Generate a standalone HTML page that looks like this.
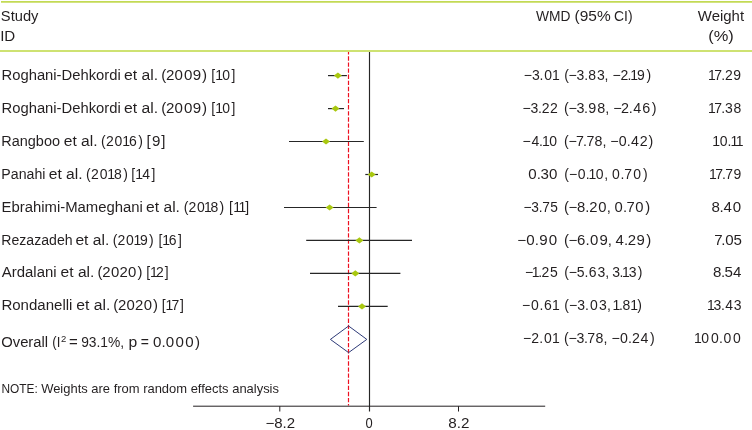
<!DOCTYPE html>
<html lang="en"><head><meta charset="utf-8"><title>Forest plot</title>
<style>
html,body{margin:0;padding:0;background:#fff}
svg{display:block;will-change:transform}
text{font-family:"Liberation Sans",sans-serif;font-size:14px;fill:#231f20}
.n{font-size:11.9px}
.s{font-size:8.5px}
</style></head><body>
<svg width="752" height="430" viewBox="0 0 752 430">
<rect width="752" height="430" fill="#fff"/>
<text y="21"><tspan x="0.89" textLength="37.58" lengthAdjust="spacingAndGlyphs">Study</tspan></text>
<text y="41"><tspan x="0.18" textLength="15.12" lengthAdjust="spacingAndGlyphs">ID</tspan></text>
<text y="21"><tspan x="535.97" textLength="34.46" lengthAdjust="spacingAndGlyphs">WMD</tspan> <tspan x="574.62" textLength="36.07" lengthAdjust="spacingAndGlyphs">(95%</tspan> <tspan x="614.06" textLength="18.56" lengthAdjust="spacingAndGlyphs">CI)</tspan></text>
<text y="21"><tspan x="697.89" textLength="46.21" lengthAdjust="spacingAndGlyphs">Weight</tspan></text>
<text y="41"><tspan x="708.24" textLength="25.55" lengthAdjust="spacingAndGlyphs">(%)</tspan></text>
<text y="80.2"><tspan x="1.52" textLength="119.22" lengthAdjust="spacingAndGlyphs">Roghani-Dehkordi</tspan> <tspan x="123.97" textLength="34.10" lengthAdjust="spacingAndGlyphs">et al.</tspan> <tspan x="161.2 166.0 174.5 183.9 192.8 202.0" textLength="43.7" lengthAdjust="spacingAndGlyphs">(2009)</tspan> <tspan x="211.3 215.2 222.2 231.5" textLength="23.3" lengthAdjust="spacingAndGlyphs">[10]</tspan></text>
<text y="113.1"><tspan x="1.52" textLength="119.22" lengthAdjust="spacingAndGlyphs">Roghani-Dehkordi</tspan> <tspan x="123.97" textLength="34.10" lengthAdjust="spacingAndGlyphs">et al.</tspan> <tspan x="161.2 166.0 174.5 183.9 192.8 202.0" textLength="43.7" lengthAdjust="spacingAndGlyphs">(2009)</tspan> <tspan x="211.3 215.2 222.2 231.5" textLength="23.3" lengthAdjust="spacingAndGlyphs">[10]</tspan></text>
<text y="145.9"><tspan x="1.29" textLength="58.69" lengthAdjust="spacingAndGlyphs">Rangboo</tspan> <tspan x="63.76" textLength="33.85" lengthAdjust="spacingAndGlyphs">et al.</tspan> <tspan x="100.9 105.9 114.6 122.2 128.9 138.2" textLength="40.5" lengthAdjust="spacingAndGlyphs">(2016)</tspan> <tspan x="146.6 152.0 161.3" textLength="16.8" lengthAdjust="spacingAndGlyphs">[9]</tspan></text>
<text y="178.8"><tspan x="1.34" textLength="44.09" lengthAdjust="spacingAndGlyphs">Panahi</tspan> <tspan x="48.76" textLength="33.85" lengthAdjust="spacingAndGlyphs">et al.</tspan> <tspan x="85.9 91.0 99.7 107.3 114.0 123.2" textLength="40.5" lengthAdjust="spacingAndGlyphs">(2018)</tspan> <tspan x="131.3 135.2 142.2 151.4" textLength="23.3" lengthAdjust="spacingAndGlyphs">[14]</tspan></text>
<text y="211.6"><tspan x="1.49" textLength="141.43" lengthAdjust="spacingAndGlyphs">Ebrahimi-Mameghani</tspan> <tspan x="146.13" textLength="33.82" lengthAdjust="spacingAndGlyphs">et al.</tspan> <tspan x="183.8 188.6 196.9 204.1 210.6 219.5" textLength="40.5" lengthAdjust="spacingAndGlyphs">(2018)</tspan> <tspan x="229.1 233.3 238.4 245.3" textLength="23.3" lengthAdjust="spacingAndGlyphs">[11]</tspan></text>
<text y="244.5"><tspan x="1.29" textLength="71.28" lengthAdjust="spacingAndGlyphs">Rezazadeh</tspan> <tspan x="75.40" textLength="33.83" lengthAdjust="spacingAndGlyphs">et al.</tspan> <tspan x="112.7 117.6 126.0 133.4 140.0 149.0" textLength="40.5" lengthAdjust="spacingAndGlyphs">(2019)</tspan> <tspan x="158.4 162.2 168.8 177.9" textLength="23.3" lengthAdjust="spacingAndGlyphs">[16]</tspan></text>
<text y="277.3"><tspan x="1.77" textLength="54.81" lengthAdjust="spacingAndGlyphs">Ardalani</tspan> <tspan x="60.58" textLength="33.77" lengthAdjust="spacingAndGlyphs">et al.</tspan> <tspan x="97.5 102.3 110.9 119.4 128.0 137.4" textLength="43.2" lengthAdjust="spacingAndGlyphs">(2020)</tspan> <tspan x="146.2 149.9 156.1 164.7" textLength="23.3" lengthAdjust="spacingAndGlyphs">[12]</tspan></text>
<text y="310.2"><tspan x="1.40" textLength="71.06" lengthAdjust="spacingAndGlyphs">Rondanelli</tspan> <tspan x="76.18" textLength="34.08" lengthAdjust="spacingAndGlyphs">et al.</tspan> <tspan x="113.2 118.0 126.6 135.1 143.7 153.1" textLength="43.2" lengthAdjust="spacingAndGlyphs">(2020)</tspan> <tspan x="161.7 165.4 171.5 180.0" textLength="23.3" lengthAdjust="spacingAndGlyphs">[17]</tspan></text>
<text y="346.8"><tspan x="1.20" textLength="46.96" lengthAdjust="spacingAndGlyphs">Overall</tspan> <tspan x="52.34" textLength="8.02" lengthAdjust="spacingAndGlyphs">(I</tspan><tspan class="s" x="60.9" y="342.2" textLength="5.3" lengthAdjust="spacingAndGlyphs">2</tspan> <tspan x="69.10" y="346.8" textLength="8.76" lengthAdjust="spacingAndGlyphs">=</tspan> <tspan x="81.13" textLength="42.95" lengthAdjust="spacingAndGlyphs">93.1%,</tspan> <tspan x="128.51" textLength="8.74" lengthAdjust="spacingAndGlyphs">p</tspan> <tspan x="140.73" textLength="8.17" lengthAdjust="spacingAndGlyphs">=</tspan> <tspan x="153.0 161.4 165.7 175.5 185.2 194.9" textLength="42.9" lengthAdjust="spacingAndGlyphs">0.000)</tspan></text>
<text class="n" y="393.4"><tspan x="1.43" textLength="36.27" lengthAdjust="spacingAndGlyphs">NOTE:</tspan> <tspan x="41.16" textLength="237.82" lengthAdjust="spacingAndGlyphs">Weights are from random effects analysis</tspan></text>
<text y="80.2"><tspan x="523.8 531.9 539.6 544.2 552.1" textLength="35.4" lengthAdjust="spacingAndGlyphs">−3.01</tspan> <tspan x="564.2 568.6 576.6 584.2 588.3 596.9 604.5 607.8 612.6 620.6 627.6 630.2 637.1 646.4" textLength="88.0" lengthAdjust="spacingAndGlyphs">(−3.83, −2.19)</tspan></text>
<text y="80.2"><tspan x="707.9 714.2 721.2 724.9 733.3" textLength="35.0" lengthAdjust="spacingAndGlyphs">17.29</tspan></text>
<text y="113.1"><tspan x="522.4 530.4 537.9 541.8 549.9" textLength="35.5" lengthAdjust="spacingAndGlyphs">−3.22</tspan> <tspan x="564.1 568.5 576.5 584.1 588.3 597.2 605.2 608.5 613.2 621.1 628.8 633.2 642.3 651.7" textLength="90.2" lengthAdjust="spacingAndGlyphs">(−3.98, −2.46)</tspan></text>
<text y="113.1"><tspan x="707.9 714.2 721.3 725.1 733.4" textLength="35.0" lengthAdjust="spacingAndGlyphs">17.38</tspan></text>
<text y="145.9"><tspan x="522.5 531.4 539.1 541.9 549.2" textLength="35.4" lengthAdjust="spacingAndGlyphs">−4.10</tspan> <tspan x="564.1 568.4 576.1 583.1 586.4 594.6 602.5 605.7 610.3 618.7 626.8 631.1 639.7 648.5" textLength="89.4" lengthAdjust="spacingAndGlyphs">(−7.78, −0.42)</tspan></text>
<text y="145.9"><tspan x="712.3 719.7 727.6 730.5 735.8" textLength="35.0" lengthAdjust="spacingAndGlyphs">10.11</tspan></text>
<text y="178.8"><tspan x="528.3 536.7 540.4 549.1" textLength="29.4" lengthAdjust="spacingAndGlyphs">0.30</tspan> <tspan x="564.3 568.9 577.8 585.7 588.5 595.8 604.3 607.6 612.1 620.6 624.2 633.3 643.1" textLength="79.8" lengthAdjust="spacingAndGlyphs">(−0.10, 0.70)</tspan></text>
<text y="178.8"><tspan x="709.0 715.2 722.1 725.3 733.4" textLength="35.0" lengthAdjust="spacingAndGlyphs">17.79</tspan></text>
<text y="211.6"><tspan x="523.4 531.3 538.8 542.2 550.2" textLength="34.7" lengthAdjust="spacingAndGlyphs">−3.75</tspan> <tspan x="564.1 568.6 577.1 585.3 589.2 598.3 606.8 610.2 614.4 622.9 626.4 635.3 645.2" textLength="84.5" lengthAdjust="spacingAndGlyphs">(−8.20, 0.70)</tspan></text>
<text y="211.6"><tspan x="711.4 719.4 723.6 732.8" textLength="29.4" lengthAdjust="spacingAndGlyphs">8.40</tspan></text>
<text y="244.5"><tspan x="517.2 526.2 534.8 539.2 548.8" textLength="38.3" lengthAdjust="spacingAndGlyphs">−0.90</tspan> <tspan x="564.1 568.5 577.1 585.5 590.0 599.4 607.8 611.2 615.4 623.9 627.8 636.6 646.3" textLength="85.3" lengthAdjust="spacingAndGlyphs">(−6.09, 4.29)</tspan></text>
<text y="244.5"><tspan x="714.3 721.3 725.2 733.6" textLength="29.4" lengthAdjust="spacingAndGlyphs">7.05</tspan></text>
<text y="277.3"><tspan x="525.0 531.8 538.2 541.4 549.9" textLength="35.4" lengthAdjust="spacingAndGlyphs">−1.25</tspan> <tspan x="564.2 568.7 576.8 584.4 588.7 597.6 605.3 608.6 612.3 619.4 622.1 628.7 637.7" textLength="79.8" lengthAdjust="spacingAndGlyphs">(−5.63, 3.13)</tspan></text>
<text y="277.3"><tspan x="713.0 720.9 724.4 732.9" textLength="29.4" lengthAdjust="spacingAndGlyphs">8.54</tspan></text>
<text y="310.2"><tspan x="522.1 531.0 539.6 544.1 552.1" textLength="35.4" lengthAdjust="spacingAndGlyphs">−0.61</tspan> <tspan x="564.3 568.9 577.3 585.1 589.9 599.1 606.9 610.3 612.5 618.9 622.5 630.3 637.3" textLength="79.8" lengthAdjust="spacingAndGlyphs">(−3.03, 1.81)</tspan></text>
<text y="310.2"><tspan x="707.0 713.4 720.9 725.2 733.8" textLength="35.0" lengthAdjust="spacingAndGlyphs">13.43</tspan></text>
<text y="342.9"><tspan x="522.9 531.2 539.2 543.9 552.1" textLength="35.4" lengthAdjust="spacingAndGlyphs">−2.01</tspan> <tspan x="564.1 568.5 576.4 583.9 587.3 595.6 603.5 606.8 611.5 619.9 628.1 631.9 640.6 650.0" textLength="89.2" lengthAdjust="spacingAndGlyphs">(−3.78, −0.24)</tspan></text>
<text y="342.9"><tspan x="694.1 701.2 710.9 719.0 723.4 733.1" textLength="42.8" lengthAdjust="spacingAndGlyphs">100.00</tspan></text>
<line x1="369.5" y1="51" x2="369.5" y2="411.5" stroke="#262626" stroke-width="1.15"/>
<line x1="348.5" y1="50.2" x2="348.5" y2="405.5" stroke="#ee1020" stroke-width="1.2" stroke-dasharray="4.35 1.75"/>
<line x1="193.1" y1="406.2" x2="545.2" y2="406.2" stroke="#231f20" stroke-width="1"/>
<line x1="279.8" y1="406.2" x2="279.8" y2="411.5" stroke="#231f20" stroke-width="1"/>
<line x1="458.5" y1="406.2" x2="458.5" y2="411.5" stroke="#231f20" stroke-width="1"/>
<line x1="328.0" y1="75.6" x2="346.9" y2="75.6" stroke="#262626" stroke-width="1.2"/>
<polygon points="333.9,75.6 337.9,72.5 341.9,75.6 337.9,78.7" fill="#a9c80f"/>
<line x1="328.0" y1="108.6" x2="344.0" y2="108.6" stroke="#262626" stroke-width="1.2"/>
<polygon points="331.5,108.6 335.5,105.5 339.5,108.6 335.5,111.7" fill="#a9c80f"/>
<line x1="289.0" y1="141.5" x2="363.8" y2="141.5" stroke="#262626" stroke-width="1.2"/>
<polygon points="322.0,141.5 326.0,138.4 330.0,141.5 326.0,144.6" fill="#a9c80f"/>
<line x1="365.3" y1="174.5" x2="378.0" y2="174.5" stroke="#262626" stroke-width="1.2"/>
<polygon points="367.7,174.5 371.7,171.4 375.7,174.5 371.7,177.6" fill="#a9c80f"/>
<line x1="284.0" y1="207.5" x2="376.6" y2="207.5" stroke="#262626" stroke-width="1.2"/>
<polygon points="325.6,207.5 329.6,204.4 333.6,207.5 329.6,210.6" fill="#a9c80f"/>
<line x1="306.2" y1="240.4" x2="412.0" y2="240.4" stroke="#262626" stroke-width="1.2"/>
<polygon points="355.4,240.4 359.4,237.3 363.4,240.4 359.4,243.5" fill="#a9c80f"/>
<line x1="310.0" y1="273.4" x2="400.4" y2="273.4" stroke="#262626" stroke-width="1.2"/>
<polygon points="351.3,273.4 355.3,270.3 359.3,273.4 355.3,276.5" fill="#a9c80f"/>
<line x1="338.0" y1="306.4" x2="387.7" y2="306.4" stroke="#262626" stroke-width="1.2"/>
<polygon points="358.0,306.4 362.0,303.3 366.0,306.4 362.0,309.5" fill="#a9c80f"/>
<polygon points="330.4,339.4 348.6,326 366.8,339.4 348.6,352.6" fill="none" stroke="#2e3a78" stroke-width="1"/>
<text y="428"><tspan x="265.46" textLength="29.63" lengthAdjust="spacingAndGlyphs">−8.2</tspan></text>
<text y="428"><tspan x="365.54" textLength="7.19" lengthAdjust="spacingAndGlyphs">0</tspan></text>
<text y="428"><tspan x="448.31" textLength="21.14" lengthAdjust="spacingAndGlyphs">8.2</tspan></text>
<line x1="1" y1="1.85" x2="752" y2="1.85" stroke="#c3da55" stroke-width="1.7"/>
<line x1="0" y1="51" x2="752" y2="51" stroke="#cee272" stroke-width="2"/>
</svg></body></html>
